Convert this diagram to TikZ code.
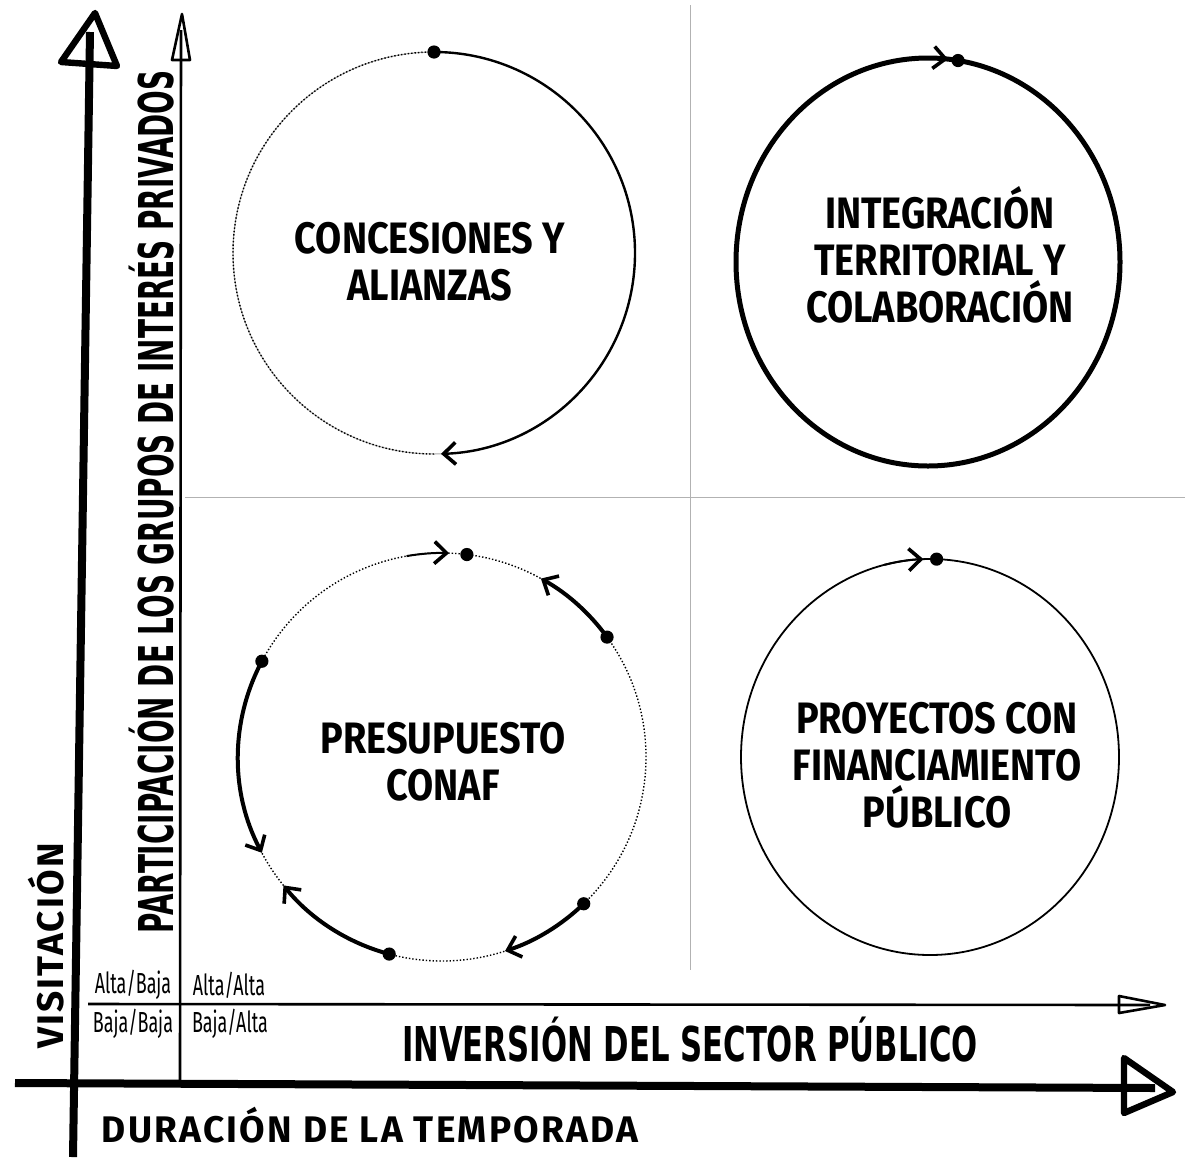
\documentclass[tikz,border=0pt]{standalone}
\usepackage{fontspec}
\usetikzlibrary{arrows.meta}
\newfontfamily\blockfont[FakeStretch=0.58]{DejaVu Sans}
\newfontfamily\wideblockfont[FakeStretch=0.64]{DejaVu Sans}
\newfontfamily\roundfont[FakeStretch=0.86]{Fira Sans}
\newfontfamily\handfont[LetterSpace=6]{Fira Sans}
\newfontfamily\narrowfont[FakeStretch=0.62]{Fira Sans}

\begin{document}
\begin{tikzpicture}[x=0.5pt, y=0.5pt,
    circlelabel/.style={font=\roundfont\bfseries\fontsize{22}{23.5}\selectfont, align=center},
    axislabel/.style={font=\blockfont\bfseries\fontsize{24}{28}\selectfont},
    seasonlabel/.style={font=\handfont\bfseries\fontsize{18.5}{22}\selectfont},
    gridlabel/.style={font=\narrowfont\fontsize{14.5}{17}\selectfont},
    guide/.style={gray!60, line width=0.5pt},
    cyclearc/.style={line width=2pt, line cap=round, -{Straight Barb[length=6pt, width=11pt, line width=1.8pt]}},
    tiponly/.style={line width=1pt, -{Straight Barb[length=6pt, width=11pt, line width=1.8pt]}},
]
    \useasboundingbox (0,0) rectangle (1192,-1157);

    % Quadrant guides
    \coordinate (gtop) at (690,-5);
    \coordinate (gbot) at (690,-970);
    \coordinate (gleft) at (185,-497);
    \coordinate (gright) at (1185,-497);
    \draw[guide] (gtop) -- (gbot);
    \draw[guide] (gleft) -- (gright);

    % Outer axes
    \coordinate (vbot) at (73,-1157);
    \coordinate (vtop) at (90,-32);
    \coordinate (hleft) at (15,-1083);
    \coordinate (hright) at (1155,-1088);
    \draw[line width=4pt] (vbot) -- (vtop);
    \draw[line width=3.2pt, line join=round] (61,-62) -- (95,-13) -- (117,-66) -- cycle;
    \draw[line width=4pt] (hleft) -- (hright);
    \draw[line width=3.2pt, line join=round] (1124,-1058) -- (1173,-1092) -- (1124,-1113) -- cycle;

    % Inner axes
    \coordinate (pbot) at (180,-1082);
    \coordinate (ptop) at (181,-30);
    \coordinate (ileft) at (88,-1004);
    \coordinate (iright) at (1150,-1005);
    \draw[line width=1.3pt] (pbot) -- (ptop);
    \draw[line width=1.3pt, line join=round] (172,-60) -- (182,-14) -- (190,-60) -- cycle;
    \draw[line width=1.3pt] (ileft) -- (iright);
    \draw[line width=1.3pt, line join=round] (1119,-996) -- (1165,-1005) -- (1119,-1013) -- cycle;

    % Circle centres
    \coordinate (tlc) at (434,-253);
    \coordinate (trc) at (928,-262);
    \coordinate (blc) at (442,-757);
    \coordinate (brc) at (930,-757);

    % Concesiones y alianzas
    \draw[gray!70, line width=0.5pt] (tlc) circle[radius=201];
    \draw[densely dotted, line width=0.7pt] (tlc) ++(270:201) arc[start angle=270, end angle=90, radius=201];
    \draw[line width=1.2pt, -{Straight Barb[length=6pt, width=11pt, line width=1.8pt]}]
        (tlc) ++(90:201) arc[start angle=90, end angle=-88, radius=201];
    \fill (tlc) ++(90:201) circle[radius=3.3pt];

    % Integracion territorial
    \draw[line width=2.5pt] (trc) ellipse[x radius=192, y radius=204];
    \draw[tiponly] (trc) ++(100:192 and 204) arc[start angle=100, end angle=84, x radius=192, y radius=204];
    \fill (trc) ++(81:192 and 204) circle[radius=3.3pt];

    % Presupuesto CONAF
    \draw[densely dotted, line width=0.7pt] (blc) circle[radius=204];
    \draw[cyclearc] (blc) ++(36:204) arc[start angle=36, end angle=61, radius=204];
    \draw[cyclearc] (blc) ++(152:204) arc[start angle=152, end angle=208, radius=204];
    \draw[cyclearc] (blc) ++(-46:204) arc[start angle=-46, end angle=-72, radius=204];
    \draw[cyclearc] (blc) ++(255:204) arc[start angle=255, end angle=219, radius=204];
    \draw[tiponly] (blc) ++(100:204) arc[start angle=100, end angle=88, radius=204];
    \foreach \ang in {36, 152, -46, 255, 83}
        \fill (blc) ++(\ang:204) circle[radius=3.3pt];

    % Proyectos con financiamiento
    \draw[line width=0.9pt] (brc) ellipse[x radius=189, y radius=198];
    \draw[tiponly] (brc) ++(104:189 and 198) arc[start angle=104, end angle=92, x radius=189, y radius=198];
    \fill (brc) ++(88:189 and 198) circle[radius=3.3pt];

    % Circle texts
    \node[circlelabel] (concession) at (430,-262) {CONCESIONES Y\\ALIANZAS};
    \node[circlelabel] (integration) at (940,-255) {INTEGRACIÓN\\TERRITORIAL Y\\COLABORACIÓN};
    \node[circlelabel] (budget) at (443,-762) {PRESUPUESTO\\CONAF};
    \node[circlelabel] (projects) at (937,-765) {PROYECTOS CON\\FINANCIAMIENTO\\PÚBLICO};

    % Axis texts
    \node[axislabel, rotate=90] (private) at (152,-502) {PARTICIPACIÓN DE LOS GRUPOS DE INTERÉS PRIVADOS};
    \node[axislabel, font=\wideblockfont\bfseries\fontsize{24}{28}\selectfont] (public) at (690,-1040) {INVERSIÓN DEL SECTOR PÚBLICO};
    \node[seasonlabel, rotate=90] (visits) at (46,-946) {VISITACIÓN};
    \node[seasonlabel] (season) at (370,-1125) {DURACIÓN DE LA TEMPORADA};

    % Quadrant keys
    \node[gridlabel] (altabaja) at (133,-985) {Alta/Baja};
    \node[gridlabel] (altaalta) at (229,-985) {Alta/Alta};
    \node[gridlabel] (bajabaja) at (133,-1024) {Baja/Baja};
    \node[gridlabel] (bajaalta) at (230,-1024) {Baja/Alta};
\end{tikzpicture}
\end{document}
